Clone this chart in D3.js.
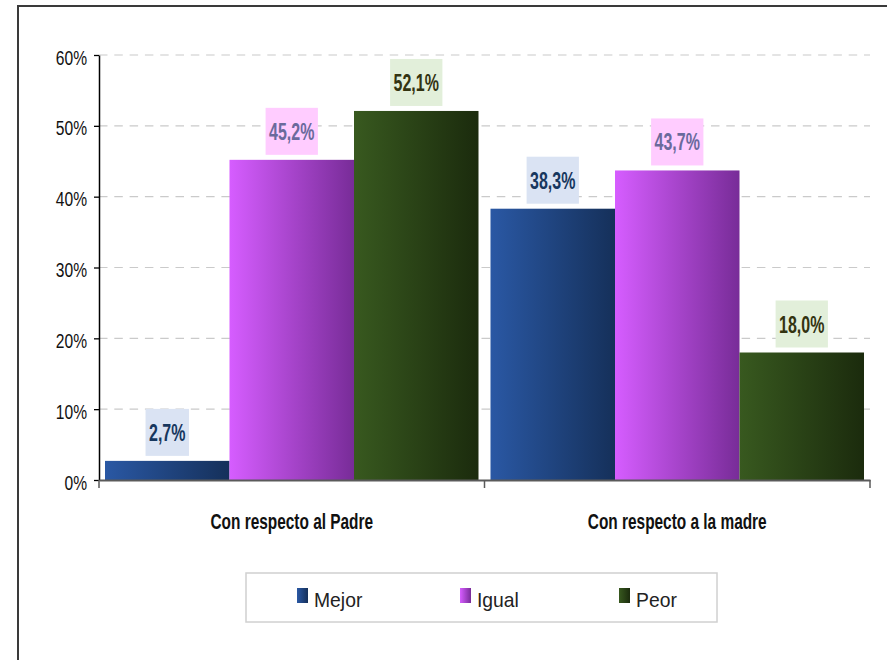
<!DOCTYPE html>
<html><head><meta charset="utf-8">
<script src="https://cdn.jsdelivr.net/npm/d3@7"></script>
<style>body{margin:0;background:#fff}svg{display:block}text{font-family:"Liberation Sans",Arial,sans-serif}</style>
</head><body><svg id="c" width="887" height="660"></svg>
<script>
const categories = ["Con respecto al Padre", "Con respecto a la madre"];
const seriesNames = ["Mejor", "Igual", "Peor"];
const mejor = [2.7, 38.3];
const igual = [45.2, 43.7];
const peor = [52.1, 18.0];
const yTicks = [0, 10, 20, 30, 40, 50, 60];
const tickLabels = ["0%", "10%", "20%", "30%", "40%", "50%", "60%"];

(function () {
const seriesValues = [mejor, igual, peor];
const grad = [["#2a58a4", "#15305a"], ["#d65dff", "#782c98"], ["#38591f", "#1b2b0d"]];
const labelBg = ["#dae3f3", "#ffccff", "#e2efda"];
const labelFg = ["#17375e", "#6a6a9c", "#333311"];

const svg = d3.select("#c");
const defs = svg.append("defs");
grad.forEach((g, i) => {
  const lg = defs.append("linearGradient").attr("id", "g" + i).attr("x1", "0").attr("x2", "1").attr("y1", "0").attr("y2", "0");
  lg.append("stop").attr("offset", "0").attr("stop-color", g[0]);
  lg.append("stop").attr("offset", "1").attr("stop-color", g[1]);
});

function fitTo(sel, f) {
  sel.each(function () {
    const w = this.getComputedTextLength();
    d3.select(this).attr("textLength", w * f).attr("lengthAdjust", "spacingAndGlyphs");
  });
}

// outer frame
svg.append("rect").attr("x", 18).attr("y", 6).attr("width", 900).attr("height", 700)
  .attr("fill", "none").attr("stroke", "#3a3a3a").attr("stroke-width", 2);

const pLeft = 99, pRight = 870, pTop = 55, pBottom = 480;
const y = d3.scaleLinear().domain([0, 60]).range([pBottom, pTop]);
const x0 = d3.scaleBand().domain(categories).range([pLeft, pRight]);
const x1 = d3.scaleBand().domain(seriesNames).range([6, x0.bandwidth() - 6]);

// gridlines
svg.append("g").selectAll("line").data(yTicks.filter(t => t > 0)).join("line")
  .attr("x1", pLeft).attr("x2", pRight).attr("y1", d => y(d)).attr("y2", d => y(d))
  .attr("stroke", "#cacaca").attr("stroke-width", 1.2).attr("stroke-dasharray", "8.5,6.8");

// y axis
const yAxis = svg.append("g").attr("transform", `translate(${pLeft},0)`)
  .call(d3.axisLeft(y).tickValues(yTicks).tickFormat((d, i) => tickLabels[i]).tickSize(5).tickSizeOuter(0));
yAxis.select(".domain").attr("stroke", "#000").attr("stroke-width", 1.5);
yAxis.selectAll(".tick line").attr("stroke", "#000").attr("stroke-width", 1.3);
yAxis.selectAll(".tick text").attr("font-size", 19.5).attr("fill", "#111").attr("x", -12).attr("dy", "0.62em").attr("y", -3)
  .call(fitTo, 0.8);

// bars
const groups = svg.append("g").selectAll("g").data(categories).join("g")
  .attr("transform", d => `translate(${x0(d)},0)`);
seriesNames.forEach((s, si) => {
  groups.append("rect")
    .attr("x", x1(s)).attr("width", x1.bandwidth())
    .attr("y", (d, ci) => y(seriesValues[si][ci]))
    .attr("height", (d, ci) => pBottom - y(seriesValues[si][ci]))
    .attr("fill", `url(#g${si})`);
});

// x axis
const xAxis = svg.append("g").attr("transform", `translate(0,${pBottom})`)
  .call(d3.axisBottom(x0).tickValues([]).tickSizeOuter(0));
xAxis.select(".domain").attr("stroke", "#5a5a5a").attr("stroke-width", 2);
svg.append("g").selectAll("line").data([pLeft, x0(categories[1]), pRight]).join("line")
  .attr("x1", d => d).attr("x2", d => d).attr("y1", pBottom).attr("y2", pBottom + 8)
  .attr("stroke", "#5a5a5a").attr("stroke-width", 1.5);

// category labels
svg.append("g").selectAll("text").data(categories).join("text")
  .attr("x", d => x0(d) + x0.bandwidth() / 2).attr("y", 529)
  .attr("text-anchor", "middle").attr("font-size", 22).attr("font-weight", "bold").attr("fill", "#111")
  .text(d => d).call(fitTo, 0.7);

// value labels
const fmt = v => d3.format(".1f")(v).replace(".", ",") + "%";
seriesNames.forEach((s, si) => {
  categories.forEach((c, ci) => {
    const v = seriesValues[si][ci];
    const cx = x0(c) + x1(s) + x1.bandwidth() / 2;
    const g = svg.append("g");
    const t = g.append("text").attr("x", cx).attr("y", y(v) - 20).attr("text-anchor", "middle")
      .attr("font-size", 23.5).attr("font-weight", "bold").attr("fill", labelFg[si]).text(fmt(v));
    t.call(fitTo, 0.68);
    const w = +t.attr("textLength") + 7;
    g.insert("rect", "text").attr("x", cx - w / 2).attr("y", y(v) - 5 - 47).attr("width", w).attr("height", 47)
      .attr("fill", labelBg[si]);
  });
});

// legend
svg.append("rect").attr("x", 246).attr("y", 573).attr("width", 471).attr("height", 49)
  .attr("fill", "#fff").attr("stroke", "#d0d0d0").attr("stroke-width", 1.5);
const legX = [297, 460, 619];
seriesNames.forEach((s, i) => {
  svg.append("rect").attr("x", legX[i]).attr("y", 588).attr("width", 11).attr("height", 15).attr("fill", `url(#g${i})`);
  svg.append("text").attr("x", legX[i] + 17).attr("y", 607).attr("font-size", 21).attr("fill", "#222")
    .text(s).call(fitTo, 0.92);
});
})();
</script></body></html>
